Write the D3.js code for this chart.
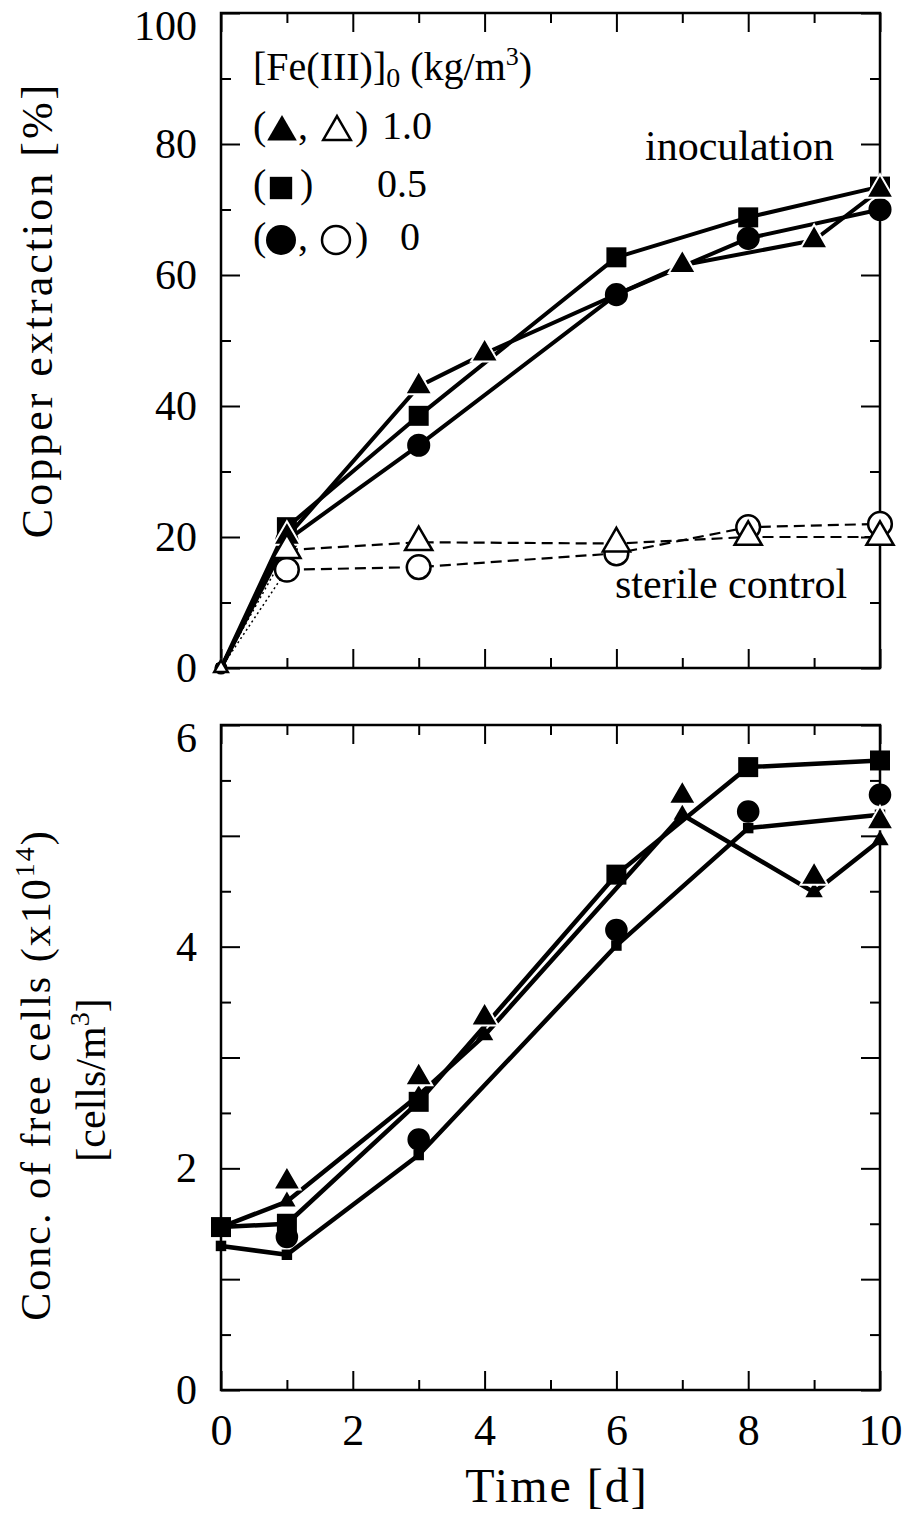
<!DOCTYPE html>
<html>
<head>
<meta charset="utf-8">
<script src="https://cdn.jsdelivr.net/npm/d3@7"></script>
<style>
  body { margin: 0; background: #fff; }
  text { font-family: "Liberation Serif", "Times New Roman", serif; fill: #000; }
</style>
</head>
<body>
<svg id="chart" width="910" height="1517"></svg>
<script>
// **** Data ****
// Top panel: copper extraction [%]
var triDays = [0, 1, 3, 4, 7, 9, 10];
var triCu   = [0, 20, 43, 48, 61.5, 65.3, 73];
var sqDays  = [0, 1, 3, 6, 8, 10];
var sqCu    = [0, 21.5, 38.5, 62.7, 68.8, 73.5];
var cirDays = [0, 1, 3, 6, 8, 10];
var cirCu   = [0, 19.5, 34, 57, 65.6, 70];
// sterile control (open symbols)
var steDays   = [0, 1, 3, 6, 8, 10];
var steTriCu  = [0, 18, 19.2, 19, 20, 20];
var steCirCu  = [0, 15, 15.4, 17.5, 21.5, 22];

// Bottom panel: free cells (x10^14 cells/m3), line vertices and symbol positions
var triCells     = [1.47, 1.7, 2.66, 3.2, 5.19, 4.49, 4.96];
var triMarkDays  = [1, 3, 4, 7, 9, 10];
var triMarkCells = [1.88, 2.82, 3.36, 5.36, 4.63, 5.13];
var sqCells      = [1.47, 1.5, 2.6, 4.65, 5.62, 5.68];
var cirCells     = [1.3, 1.22, 2.12, 4.01, 5.07, 5.19];
var cirMarkDays  = [1, 3, 6, 8, 10];
var cirMarkCells = [1.38, 2.26, 4.15, 5.22, 5.37];

// ticks
var xMajor = [0, 2, 4, 6, 8, 10];
var xMinor = [1, 3, 5, 7, 9];
var cuMajor = [0, 20, 40, 60, 80, 100];
var cuMinor = [10, 30, 50, 70, 90];
var cellMajor = [0, 1, 2, 3, 4, 5, 6];
var cellMinor = [0.5, 1.5, 2.5, 3.5, 4.5, 5.5];
var cellLabels = [0, 2, 4, 6];

// **** Scales ****
var x = d3.scaleLinear().domain([0, 10]).range([221, 880]);
var yCu = d3.scaleLinear().domain([0, 100]).range([668, 13]);
var yCell = d3.scaleLinear().domain([0, 6]).range([1390, 725]);

var svg = d3.select('#chart');

// frame + inward ticks on all four sides
function drawFrame(y, major, minor, fmt, showX) {
    var g = svg.append('g');
    var y0 = y.range()[0], y1 = y.range()[1];
    var big = 19, small = 10;

    function ticks(axis, tr, vals, len, labels) {
        var a = g.append('g').attr('transform', tr)
            .call(axis.tickValues(vals).tickSize(-len).tickPadding(labels ? 24 : 0)
                .tickFormat(labels || function() { return ''; }));
        a.select('.domain').remove();
        a.selectAll('line').attr('stroke', '#000').attr('stroke-width', 2);
        a.selectAll('text').attr('font-family', '"Liberation Serif", serif').attr('font-size', 42);
        return a;
    }

    ticks(d3.axisBottom(x), 'translate(0,' + y0 + ')', xMajor, big, showX ? function(d) { return d; } : null)
        .selectAll('text').attr('font-size', 44).attr('dy', '0.71em');
    ticks(d3.axisBottom(x), 'translate(0,' + y0 + ')', xMinor, small, null);
    ticks(d3.axisTop(x), 'translate(0,' + y1 + ')', xMajor, big, null);
    ticks(d3.axisTop(x), 'translate(0,' + y1 + ')', xMinor, small, null);

    var left = ticks(d3.axisLeft(y), 'translate(221,0)', major, big, fmt);
    // keep the top label inside the page like the original
    left.selectAll('text').filter(function(d) { return d === y.domain()[1]; }).attr('dy', '0.62em');
    ticks(d3.axisLeft(y), 'translate(221,0)', minor, small, null);
    ticks(d3.axisRight(y), 'translate(880,0)', major, big, null);
    ticks(d3.axisRight(y), 'translate(880,0)', minor, small, null);

    g.append('rect')
        .attr('x', 221).attr('y', y1)
        .attr('width', 880 - 221).attr('height', y0 - y1)
        .attr('fill', 'none').attr('stroke', '#000').attr('stroke-width', 2.5);
}

drawFrame(yCu, cuMajor, cuMinor, function(d) { return d; }, false);
drawFrame(yCell, cellMajor, cellMinor, function(d) { return cellLabels.indexOf(d) >= 0 ? d : ''; }, true);

// **** helpers ****
function lineOf(y) {
    return d3.line().x(function(d) { return x(d[0]); }).y(function(d) { return y(d[1]); });
}
function path(data, y, dash, width) {
    svg.append('path').datum(data)
        .attr('d', lineOf(y))
        .attr('fill', 'none').attr('stroke', '#000')
        .attr('stroke-width', width)
        .attr('stroke-linejoin', 'round')
        .attr('stroke-dasharray', dash);
}
function marks(data, y, type, size, fill, stroke, sw) {
    svg.append('g').selectAll('path').data(data).enter().append('path')
        .attr('transform', function(d) { return 'translate(' + x(d[0]) + ',' + y(d[1]) + ')'; })
        .attr('d', function(d) { return d3.symbol(type, typeof size === 'function' ? size(d) : size)(); })
        .attr('fill', fill).attr('stroke', stroke).attr('stroke-width', sw);
}
var atZero = function(big, small) { return function(d) { return d[0] === 0 ? small : big; }; };

// **** Top panel ****
var steTri = d3.zip(steDays, steTriCu);
var steCir = d3.zip(steDays, steCirCu);
path(steTri.slice(0, 2), yCu, '2 3', 1.5);
path(steCir.slice(0, 2), yCu, '2 3', 1.5);
path(steTri.slice(1), yCu, '11 6', 2.2);
path(steCir.slice(1), yCu, '11 6', 2.2);

var triTop = d3.zip(triDays, triCu);
var sqTop = d3.zip(sqDays, sqCu);
var cirTop = d3.zip(cirDays, cirCu);
path(triTop, yCu, null, 4);
path(sqTop, yCu, null, 4);
path(cirTop, yCu, null, 4);

marks(cirTop, yCu, d3.symbolCircle, atZero(420, 90), '#000', 'none', 0);
marks(sqTop, yCu, d3.symbolSquare, atZero(400, 100), '#000', 'none', 0);
marks(triTop, yCu, d3.symbolTriangle, atZero(320, 80), '#000', '#fff', 2);
marks(steCir, yCu, d3.symbolCircle, atZero(440, 90), '#fff', '#000', 2.5);
marks(steTri, yCu, d3.symbolTriangle, atZero(320, 80), '#fff', '#000', 2.5);

svg.append('text').attr('x', 645).attr('y', 160).attr('font-size', 42).text('inoculation');
svg.append('text').attr('x', 615).attr('y', 598).attr('font-size', 42).text('sterile control');

// legend
var leg = svg.append('g').attr('font-size', 40);
var title = leg.append('text').attr('x', 253).attr('y', 80);
title.append('tspan').text('[Fe(III)]');
title.append('tspan').attr('dy', 7).attr('font-size', 28).text('0');
title.append('tspan').attr('dy', -7).text(' (kg/m');
title.append('tspan').attr('dy', -15).attr('font-size', 26).text('3');
title.append('tspan').attr('dy', 15).text(')');

leg.append('text').attr('x', 253).attr('y', 139).text('(');
leg.append('text').attr('x', 298).attr('y', 139).text(',');
leg.append('text').attr('x', 355).attr('y', 139).text(')');
leg.append('text').attr('x', 382).attr('y', 139).text('1.0');
leg.append('path').attr('transform', 'translate(282,132)').attr('d', d3.symbol(d3.symbolTriangle, 380)()).attr('fill', '#000');
leg.append('path').attr('transform', 'translate(337,132)').attr('d', d3.symbol(d3.symbolTriangle, 330)())
    .attr('fill', '#fff').attr('stroke', '#000').attr('stroke-width', 2.5);

leg.append('text').attr('x', 253).attr('y', 197).text('(');
leg.append('text').attr('x', 300).attr('y', 197).text(')');
leg.append('text').attr('x', 377).attr('y', 197).text('0.5');
leg.append('path').attr('transform', 'translate(281,188)').attr('d', d3.symbol(d3.symbolSquare, 500)()).attr('fill', '#000');

leg.append('text').attr('x', 253).attr('y', 250).text('(');
leg.append('text').attr('x', 298).attr('y', 250).text(',');
leg.append('text').attr('x', 355).attr('y', 250).text(')');
leg.append('text').attr('x', 400).attr('y', 250).text('0');
leg.append('circle').attr('cx', 281).attr('cy', 240).attr('r', 15).attr('fill', '#000');
leg.append('circle').attr('cx', 336).attr('cy', 240).attr('r', 14).attr('fill', '#fff').attr('stroke', '#000').attr('stroke-width', 2.5);

// **** Bottom panel ****
var triBot = d3.zip(triDays, triCells);
var sqBot = d3.zip(sqDays, sqCells);
var cirBot = d3.zip(cirDays, cirCells);
path(triBot, yCell, null, 4.5);
path(sqBot, yCell, null, 4.5);
path(cirBot, yCell, null, 4.5);

marks(triBot, yCell, d3.symbolTriangle, 130, '#000', 'none', 0);
marks(cirBot, yCell, d3.symbolSquare, 110, '#000', 'none', 0);
marks(sqBot, yCell, d3.symbolSquare, 400, '#000', 'none', 0);
marks(d3.zip(cirMarkDays, cirMarkCells), yCell, d3.symbolCircle, 400, '#000', 'none', 0);
marks(d3.zip(triMarkDays, triMarkCells), yCell, d3.symbolTriangle, 320, '#000', '#fff', 2);

// **** Axis titles ****
svg.append('text')
    .attr('transform', 'translate(52,310) rotate(-90)')
    .attr('text-anchor', 'middle')
    .attr('font-size', 44)
    .attr('letter-spacing', 3)
    .text('Copper extraction [%]');

var t1 = svg.append('text')
    .attr('transform', 'translate(50,1075) rotate(-90)')
    .attr('text-anchor', 'middle')
    .attr('font-size', 42)
    .attr('letter-spacing', 2);
t1.append('tspan').text('Conc. of free cells (x10');
t1.append('tspan').attr('dy', -16).attr('font-size', 28).text('14');
t1.append('tspan').attr('dy', 16).text(')');

var t2 = svg.append('text')
    .attr('transform', 'translate(105,1080) rotate(-90)')
    .attr('text-anchor', 'middle')
    .attr('font-size', 42);
t2.append('tspan').text('[cells/m');
t2.append('tspan').attr('dy', -16).attr('font-size', 28).text('3');
t2.append('tspan').attr('dy', 16).text(']');

svg.append('text')
    .attr('x', 557).attr('y', 1502)
    .attr('text-anchor', 'middle')
    .attr('font-size', 48)
    .attr('letter-spacing', 2)
    .text('Time [d]');
</script>
</body>
</html>
